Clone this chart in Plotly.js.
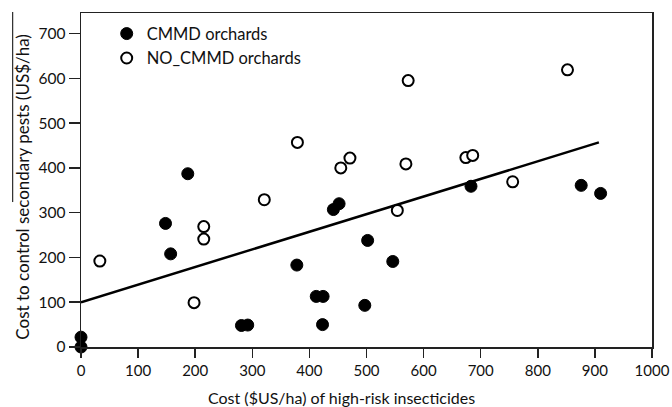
<!DOCTYPE html>
<html>
<head>
<meta charset="utf-8">
<script src="https://cdn.plot.ly/plotly-3.0.1.min.js"></script>
<style>html,body{margin:0;padding:0;background:#fff;}#chart{width:672px;height:407px;}</style>
</head>
<body>
<div id="chart"></div>
<script>
// CMMD orchards (filled)
const cmmdX = [0, 0, 148, 157, 187, 281, 292, 378, 412, 424, 423, 442, 452, 502, 546, 497, 683, 876, 910];
const cmmdY = [0, 22, 276, 208, 387, 48, 49, 183, 113, 113, 50, 307, 320, 238, 191, 93, 359, 361, 343];
// NO_CMMD orchards (open)
const noX = [33, 198, 215, 215, 321, 379, 455, 471, 554, 569, 573, 674, 686, 756, 852];
const noY = [192, 99, 269, 241, 329, 457, 400, 422, 305, 409, 595, 423, 428, 369, 619];
// fitted regression line end points
const fitX = [0, 907];
const fitY = [100, 457];
const xTicks = [0, 100, 200, 300, 400, 500, 600, 700, 800, 900, 1000];
const yTicks = [0, 100, 200, 300, 400, 500, 600, 700];

const font = "Lato, 'Open Sans', sans-serif";
const ink = '#111';

const traces = [
  {x: fitX, y: fitY, mode: 'lines', line: {color: '#000', width: 2.5}, showlegend: false, hoverinfo: 'skip'},
  {x: cmmdX, y: cmmdY, mode: 'markers', name: 'CMMD orchards', cliponaxis: false,
   marker: {size: 12, color: '#000', line: {color: '#000', width: 1}}},
  {x: noX, y: noY, mode: 'markers', name: 'NO_CMMD orchards', cliponaxis: false,
   marker: {size: 11, color: '#fff', line: {color: '#000', width: 2}}}
];

const layout = {
  width: 672, height: 407,
  margin: {l: 81, r: 20, t: 13, b: 60, pad: 0},
  paper_bgcolor: '#fff', plot_bgcolor: '#fff',
  font: {family: font, color: ink, size: 15},
  showlegend: true,
  legend: {x: 0.045, y: 0.99, xanchor: 'left', yanchor: 'top', bgcolor: 'rgba(0,0,0,0)',
           font: {family: font, size: 16.5, color: ink}, tracegroupgap: 0, itemsizing: 'trace'},
  xaxis: {
    range: [0, 1000], tickvals: xTicks,
    ticks: 'outside', ticklen: 9, tickwidth: 1.5, tickcolor: '#222',
    showline: true, linecolor: '#222', linewidth: 1.5, mirror: true,
    showgrid: false, zeroline: false,
    tickfont: {family: font, size: 15, color: ink}
  },
  yaxis: {
    range: [0, 746], tickvals: yTicks,
    ticks: 'outside', ticklen: 11, tickwidth: 1.5, tickcolor: '#222',
    showline: true, linecolor: '#222', linewidth: 1.5, mirror: true,
    showgrid: false, zeroline: false,
    tickfont: {family: font, size: 15.5, color: ink}
  },
  annotations: [
    {text: 'Cost ($US/ha) of high-risk insecticides', xref: 'paper', yref: 'paper',
     x: 0.456, y: -0.1506, xanchor: 'center', yanchor: 'middle', showarrow: false,
     font: {family: font, size: 16, color: ink}},
    {text: 'Cost to control secondary pests (US$/ha)', xref: 'paper', yref: 'paper',
     x: -0.1016, y: 0.48, xanchor: 'center', yanchor: 'middle', showarrow: false, textangle: -90,
     font: {family: font, size: 17, color: ink}}
  ],
  shapes: [
    {type: 'line', xref: 'paper', yref: 'paper', x0: -0.1196, x1: -0.1196, y0: 0.434, y1: 1.003,
     line: {color: '#000', width: 1}}
  ]
};

Plotly.newPlot('chart', traces, layout, {displayModeBar: false, staticPlot: true});
</script>
</body>
</html>
